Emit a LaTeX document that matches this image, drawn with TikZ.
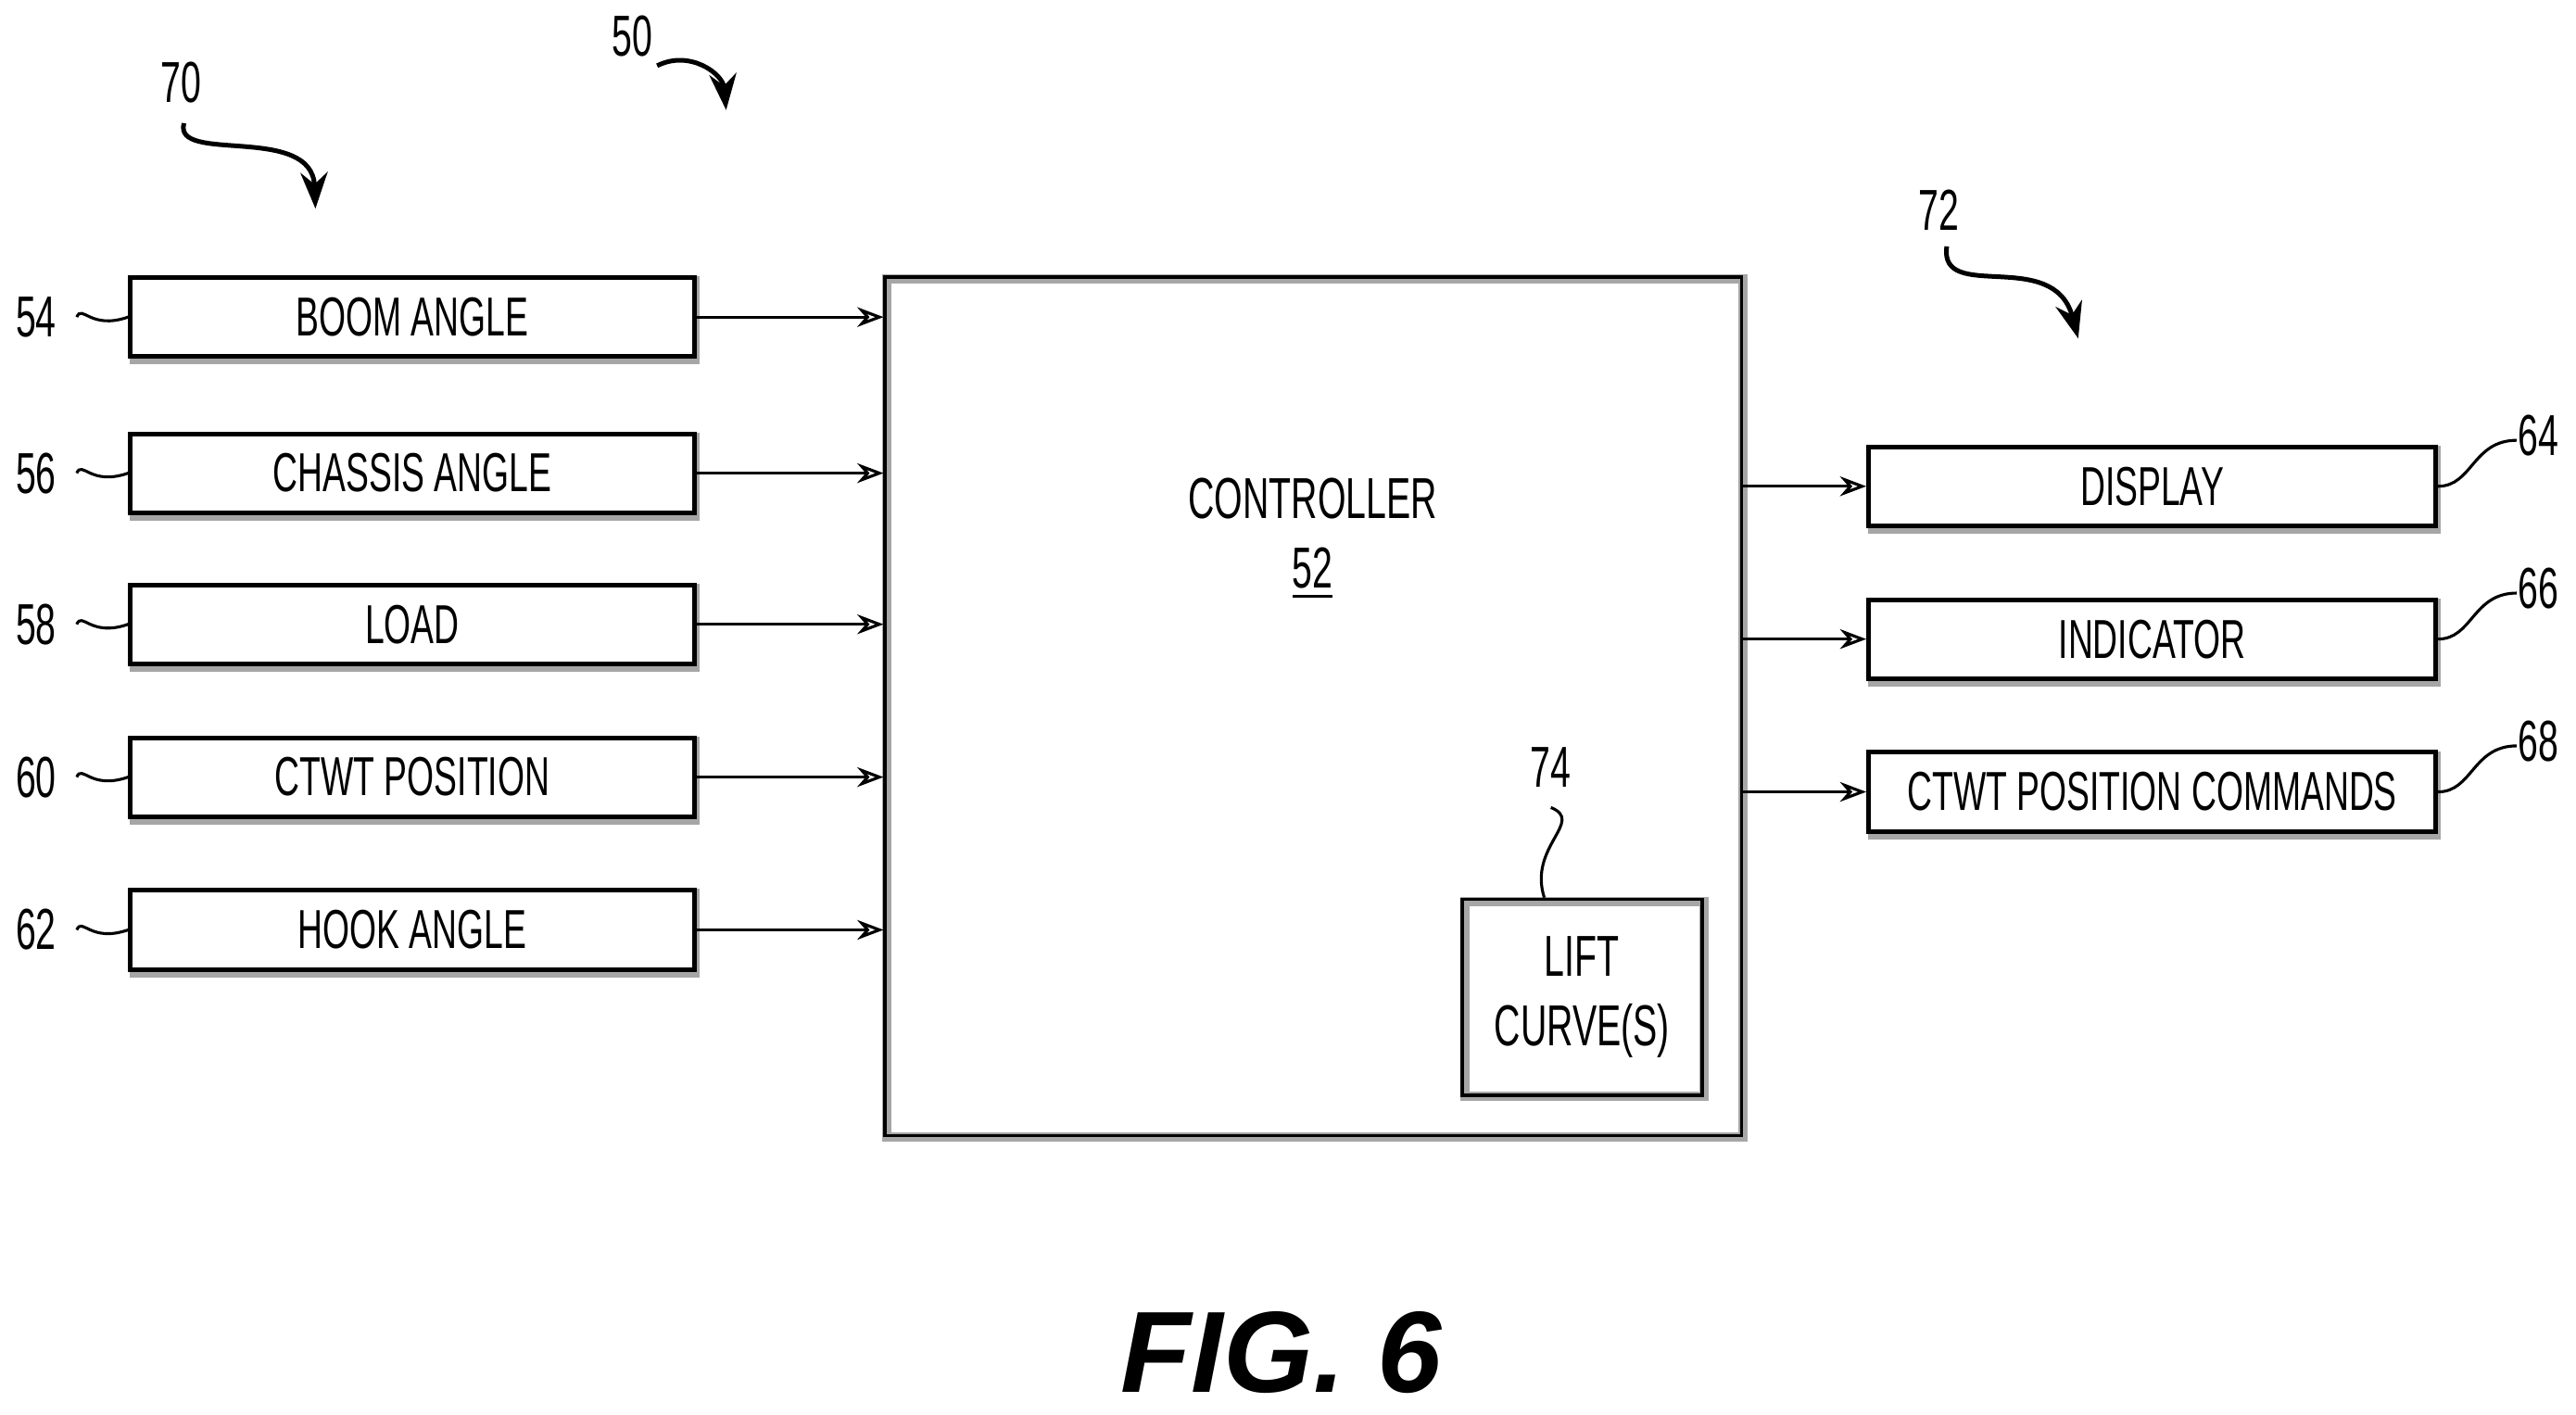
\documentclass[tikz,border=0pt]{standalone}
\usepackage{fontspec}
\setmainfont{Liberation Sans}[FakeStretch=0.63]
\newfontfamily\figfont{Liberation Sans}
\usetikzlibrary{arrows.meta}
\begin{document}
\begin{tikzpicture}[x=0.01cm,y=-0.01cm,
  blk/.style={draw,line width=0.8pt,minimum height=0.48cm,font=\fontsize{9.5}{10}\selectfont,inner sep=0pt},
  shd/.style={draw,line width=1.6pt,gray!70},
  lnk/.style={-{Stealth[length=1.6mm,open]},line width=0.5pt},
  lead/.style={line width=0.5pt},
  ref/.style={font=\fontsize{10}{11}\selectfont},
  curl/.style={-{Stealth[length=2.2mm]},line width=0.8pt}]
\useasboundingbox (0,0) rectangle (1568,861);
% controller
\draw[shd] (540,170) rectangle (1061,692);
\node[draw,line width=0.6pt,minimum width=5.21cm,minimum height=5.22cm,inner sep=0pt] (ctrl) at (799.5,430) {};
\node[font=\fontsize{10}{12}\selectfont,align=center] (ctrltxt) at (799,328) {CONTROLLER\\\underline{52}};
\draw[shd] (892,549) rectangle (1037,667);
\node[draw,line width=0.6pt,minimum width=1.46cm,minimum height=1.19cm,inner sep=0pt,align=center,font=\fontsize{10}{12}\selectfont] (lift) at (963,607) {LIFT\\CURVE(S)};
% inputs
\foreach \nm/\txt/\yy/\num in {boom/BOOM ANGLE/193/54, chassis/CHASSIS ANGLE/288/56, load/LOAD/380/58, ctwt/CTWT POSITION/473/60, hook/HOOK ANGLE/566/62}{
  \draw[shd] (82,\yy-22) rectangle (423,\yy+26);
  \node[blk,minimum width=3.43cm,fill=white] (\nm) at (251,\yy) {\txt};
  \draw[lnk] (\nm.east) -- (ctrl.west |- \nm.east);
  \node[ref] (n\num) at (22,\yy) {\num};
  \draw[lead] (n\num.east) .. controls (50,\yy-8) and (55,\yy+8) .. (\nm.west);
}
% outputs
\foreach \nm/\txt/\yy/\num in {disp/DISPLAY/296/64, ind/INDICATOR/389/66, cmd/CTWT POSITION COMMANDS/482/68}{
  \draw[shd] (1140,\yy-22) rectangle (1483,\yy+26);
  \node[blk,minimum width=3.45cm,fill=white] (\nm) at (1310,\yy) {\txt};
  \draw[lnk] (ctrl.east |- \nm.west) -- (\nm.west);
  \node[ref] (n\num) at (1545,\yy-31) {\num};
  \coordinate (e\num) at (1532,\yy-28);
  \draw[lead] (\nm.east) .. controls (1505,\yy) and (1505,\yy-28) .. (e\num);
}
% lift curve reference
\node[ref] (n74) at (944,467) {74};
\draw[lead] (n74.south) .. controls (965,500) and (930,515) .. (lift.north -| 940,0);
% group references
\node[ref] (n70) at (110,50) {70};
\coordinate (a70) at (192,127);
\draw[curl] (112,75) .. controls (105,100) and (190,75) .. (a70);
\node[ref] (n50) at (385,22) {50};
\coordinate (a50) at (442,67);
\draw[curl] (400,40) .. controls (420,30) and (440,45) .. (a50);
\node[ref] (n72) at (1180,128) {72};
\coordinate (a72) at (1265,206);
\draw[curl] (1185,150) .. controls (1180,185) and (1250,150) .. (a72);
% caption
\node[font=\figfont\fontsize{20}{22}\selectfont\bfseries\itshape] (fig) at (780,823) {FIG. 6};
\end{tikzpicture}
\end{document}
